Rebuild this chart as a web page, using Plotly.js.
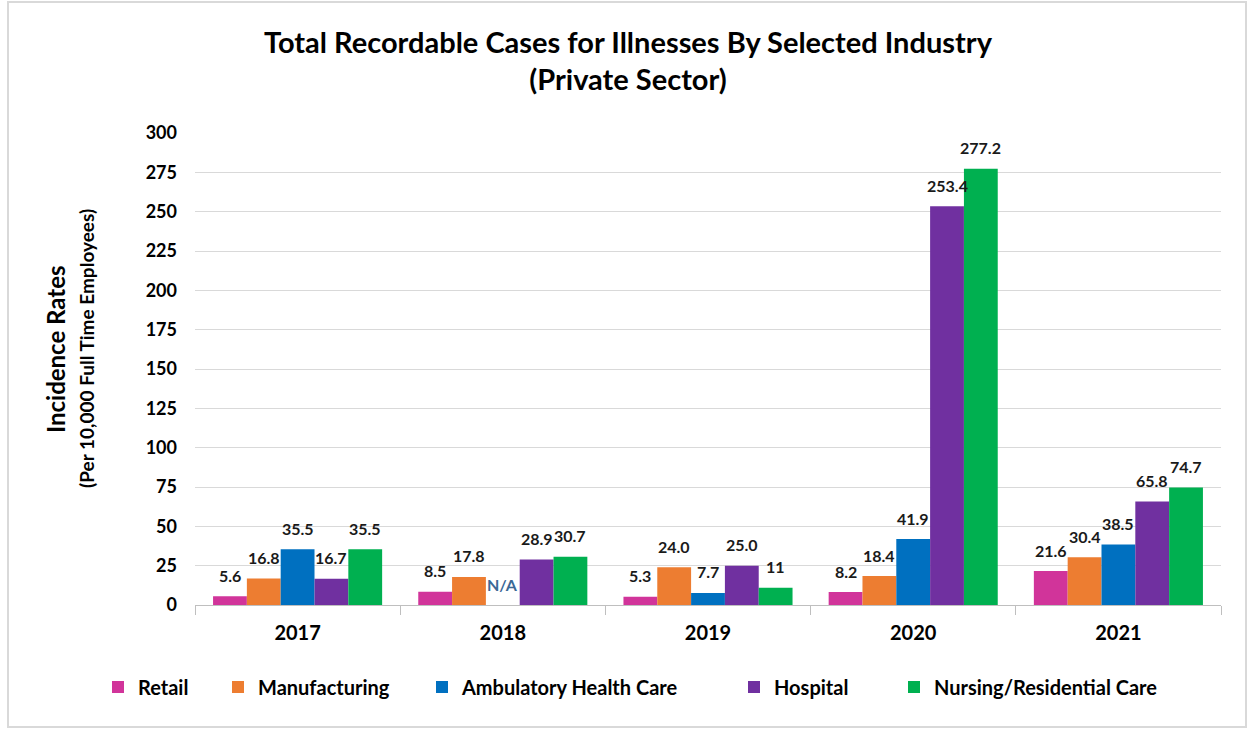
<!DOCTYPE html>
<html>
<head>
<meta charset="utf-8">
<script src="https://cdn.plot.ly/plotly-3.0.1.min.js"></script>
<style>html,body{margin:0;padding:0;background:#fff;}#chart{width:1249px;height:729px;}</style>
</head>
<body>
<div id="chart"></div>
<script>
const years = ['2017', '2018', '2019', '2020', '2021'];
const retail = [5.6, 8.5, 5.3, 8.2, 21.6];
const manufacturing = [16.8, 17.8, 24.0, 18.4, 30.4];
const ambulatory = [35.5, null, 7.7, 41.9, 38.5];
const hospital = [16.7, 28.9, 25.0, 253.4, 65.8];
const nursing = [35.5, 30.7, 11, 277.2, 74.7];
const retailLabels = ['5.6', '8.5', '5.3', '8.2', '21.6'];
const manufacturingLabels = ['16.8', '17.8', '24.0', '18.4', '30.4'];
const ambulatoryLabels = ['35.5', 'N/A', '7.7', '41.9', '38.5'];
const hospitalLabels = ['16.7', '28.9', '25.0', '253.4', '65.8'];
const nursingLabels = ['35.5', '30.7', '11', '277.2', '74.7'];
const yTicks = [0, 25, 50, 75, 100, 125, 150, 175, 200, 225, 250, 275, 300];

const series = [
  {name: 'Retail', values: retail, labels: retailLabels, color: '#D1349A'},
  {name: 'Manufacturing', values: manufacturing, labels: manufacturingLabels, color: '#ED7D31'},
  {name: 'Ambulatory Health Care', values: ambulatory, labels: ambulatoryLabels, color: '#0070C0'},
  {name: 'Hospital', values: hospital, labels: hospitalLabels, color: '#7030A0'},
  {name: 'Nursing/Residential Care', values: nursing, labels: nursingLabels, color: '#00B050'}
];

const FONT = 'Lato, "Open Sans", sans-serif';
const W = 1249, H = 729;
const M = {l: 195, r: 28, t: 133, b: 124};
const plotW = W - M.l - M.r, plotH = H - M.t - M.b;
const bargap = 0.176;
const catW = plotW / years.length;
const barW = catW * (1 - bargap) / series.length;
// legend entry marker centres (pixels) in the reference layout
const legendMarkerPx = [118, 238, 442, 754, 914];

const traces = series.map((s, i) => ({
  type: 'bar',
  name: s.name,
  x: years,
  y: s.values,
  legend: i === 0 ? 'legend' : 'legend' + (i + 1),
  marker: {color: s.color, line: {width: 0}},
  hoverinfo: 'x+y+name'
}));

const annotations = [];
series.forEach((s, i) => {
  years.forEach((yr, j) => {
    const v = s.values[j];
    const isNA = v === null;
    annotations.push({
      xref: 'x', yref: 'y',
      x: j, y: isNA ? 0 : v,
      text: s.labels[j],
      showarrow: false,
      xshift: (i - (series.length - 1) / 2) * barW,
      yshift: 21,
      yanchor: 'middle',
      font: {family: FONT, size: 16, color: isNA ? '#3B6896' : '#1a1a1a', weight: 'bold'}
    });
  });
});

// y-axis titles
annotations.push({
  xref: 'paper', yref: 'paper', x: (55 - M.l) / plotW, y: (605 - 349) / plotH,
  xanchor: 'center', yanchor: 'middle', textangle: -90, showarrow: false,
  text: 'Incidence Rates', font: {family: FONT, size: 24, color: '#000', weight: 'bold'}
});
annotations.push({
  xref: 'paper', yref: 'paper', x: (86 - M.l) / plotW, y: (605 - 349) / plotH,
  xanchor: 'center', yanchor: 'middle', textangle: -90, showarrow: false,
  text: '(Per 10,000 Full Time Employees)', font: {family: FONT, size: 19, color: '#000', weight: 'bold'}
});

const layout = {
  width: W, height: H,
  margin: M,
  paper_bgcolor: '#fff', plot_bgcolor: '#fff',
  barmode: 'group',
  bargap: bargap,
  bargroupgap: 0,
  title: {
    text: 'Total Recordable Cases for Illnesses By Selected Industry<br>(Private Sector)',
    x: 628 / W, xanchor: 'center',
    y: 1 - 52.5 / H, yanchor: 'middle', yref: 'container',
    font: {family: FONT, size: 29, color: '#000', weight: 'bold'}
  },
  xaxis: {
    type: 'category',
    range: [-0.5, years.length - 0.5],
    autorange: false,
    tickson: 'boundaries',
    ticks: 'outside', ticklen: 9, tickcolor: '#BFBFBF', tickwidth: 1,
    showline: true, linecolor: '#BFBFBF', linewidth: 1,
    showgrid: false,
    tickangle: 0,
    tickfont: {family: FONT, size: 20, color: '#000', weight: 'bold'},
    ticklabelstandoff: 10,
    fixedrange: true
  },
  yaxis: {
    range: [0, 300],
    autorange: false,
    tickvals: yTicks,
    ticktext: yTicks.map(String),
    showgrid: true, gridcolor: '#D9D9D9', gridwidth: 1,
    zeroline: false, showline: false,
    ticks: '',
    tickfont: {family: FONT, size: 18, color: '#000', weight: 'bold'},
    ticklabelstandoff: 17,
    fixedrange: true
  },
  annotations: annotations,
  shapes: [{
    type: 'rect', xref: 'paper', yref: 'paper',
    x0: (8 - M.l) / plotW, x1: (1246 - M.l) / plotW,
    y0: (605 - 727) / plotH, y1: (605 - 2) / plotH,
    line: {color: '#D9D9D9', width: 2}, fillcolor: 'rgba(0,0,0,0)', layer: 'below'
  }],
  showlegend: true
};

legendMarkerPx.forEach((px, i) => {
  const key = i === 0 ? 'legend' : 'legend' + (i + 1);
  layout[key] = {
    orientation: 'h',
    x: (px - 20 - M.l) / plotW, xanchor: 'left',
    y: (605 - 687) / plotH, yanchor: 'middle',
    font: {family: FONT, size: 20, color: '#000', weight: 'bold'},
    itemwidth: 30,
    bgcolor: 'rgba(0,0,0,0)'
  };
});

Plotly.newPlot('chart', traces, layout, {displayModeBar: false, staticPlot: true});
</script>
</body>
</html>
